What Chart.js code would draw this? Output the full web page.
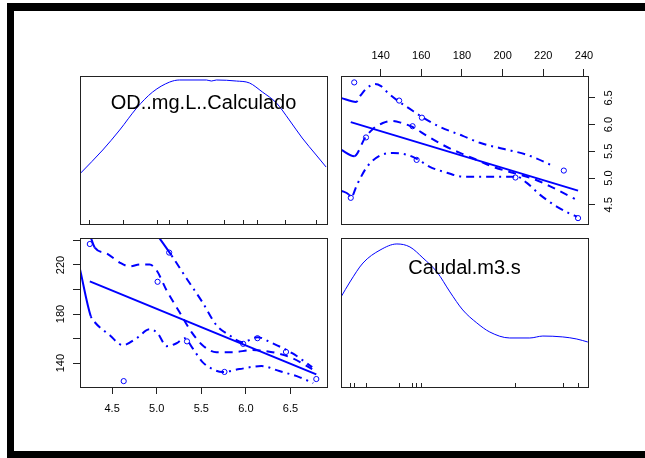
<!DOCTYPE html>
<html><head><meta charset="utf-8">
<script src="https://cdn.jsdelivr.net/npm/chart.js@4.4.1/dist/chart.umd.min.js"></script>
<style>
html,body{margin:0;padding:0;background:#fff;width:645px;height:458px;overflow:hidden;position:relative;}
.bar{position:absolute;background:#000;}
#barTop{left:7px;top:3px;width:638px;height:8px;}
#barLeft{left:7px;top:3px;width:7px;height:455px;}
#barBottom{left:7px;top:451px;width:638px;height:7px;}
#rightCover{position:absolute;left:628px;top:11px;width:17px;height:440px;background:#fff;z-index:10;}
canvas{position:absolute;left:0;top:0;}
</style></head><body>
<div class="bar" id="barTop"></div>
<div class="bar" id="barLeft"></div>
<div class="bar" id="barBottom"></div>
<canvas id="tl" width="645" height="458"></canvas>
<canvas id="tr" width="645" height="458"></canvas>
<canvas id="bl" width="645" height="458"></canvas>
<canvas id="br" width="645" height="458"></canvas>
<div id="rightCover"></div>
<script>
// ---- data ----
const OD = [6.79, 6.45, 6.13, 5.76, 5.97, 5.34, 4.63, 5.01, 5.14, 4.25];
const CAUDAL = [127.0, 149.1, 160.3, 132.8, 155.7, 157.7, 125.3, 206.3, 230.1, 237.1];
const OD_TICKS = [4.5, 5.0, 5.5, 6.0, 6.5];
const CAUDAL_TICKS = [140, 160, 180, 200, 220, 240];
const CAUDAL_LABELLED = [140, 180, 220];
const OD_RANGE = [4.14, 6.91];
const CAUDAL_RANGE = [120.5, 242];
const LABEL_OD = 'OD..mg.L..Calculado';
const LABEL_CAUDAL = 'Caudal.m3.s';

// OD vs Caudal (top-right): x = Caudal, y = OD
const TR_REG_X = [125.3, 237.1];
const TR_REG_Y = [6.046, 4.765];
const TR_SMOOTH_X = [120.5, 127.0, 132.3, 136.2, 141.1, 145.6, 150.5, 155.4, 162.8, 170.6, 179.0, 187.3, 195.2, 205.0, 214.8, 224.7, 235.5];
const TR_SMOOTH_Y = [5.53, 5.41, 5.75, 5.92, 6.03, 6.07, 6.03, 5.96, 5.79, 5.62, 5.47, 5.34, 5.21, 5.10, 4.99, 4.82, 4.61];
const TR_UPPER_X = [120.5, 127.9, 130.3, 133.3, 137.2, 140.2, 143.6, 148.5, 154.4, 160.3, 169.1, 180.4, 188.8, 200.1, 211.9, 224.7];
const TR_UPPER_Y = [6.50, 6.425, 6.555, 6.686, 6.76, 6.72, 6.593, 6.444, 6.294, 6.145, 5.958, 5.79, 5.66, 5.548, 5.436, 5.23];
const TR_LOWER_X = [120.5, 124.4, 125.4, 128.4, 133.3, 139.7, 146.1, 153.0, 157.8, 164.2, 172.6, 180.4, 188.8, 200.1, 207.0, 211.9, 218.3, 226.6, 233.0, 236.5];
const TR_LOWER_Y = [4.765, 4.69, 4.635, 4.877, 5.21, 5.42, 5.47, 5.436, 5.36, 5.21, 5.10, 5.026, 5.026, 5.026, 5.026, 4.91, 4.69, 4.466, 4.335, 4.28];

// Caudal vs OD (bottom-left): x = OD, y = Caudal
const BL_REG_X = [4.25, 6.79];
const BL_REG_Y = [206.6, 130.8];
const BL_SMOOTH_X = [4.25, 4.306, 4.44, 4.585, 4.697, 4.809, 4.921, 5.0, 5.111, 5.257, 5.391, 5.514, 5.67, 5.849, 6.073, 6.297, 6.52, 6.744];
const BL_SMOOTH_Y = [244.8, 234.2, 229.4, 222.0, 218.8, 220.4, 220.4, 215.5, 199.3, 181.4, 165.2, 154.6, 148.9, 148.9, 150.6, 148.9, 144.1, 135.1];
const BL_UPPER_X = [4.986, 5.167, 5.335, 5.514, 5.67, 5.816, 5.961, 6.129, 6.297, 6.52, 6.744];
const BL_UPPER_Y = [246.4, 227.7, 209.0, 189.5, 170.9, 162.7, 157.0, 161.1, 156.2, 148.1, 136.7];
const BL_LOWER_X = [4.138, 4.261, 4.306, 4.474, 4.619, 4.776, 4.921, 5.01, 5.111, 5.223, 5.312, 5.402, 5.514, 5.626, 5.738, 5.928, 6.174, 6.375, 6.599, 6.755];
const BL_LOWER_Y = [217.2, 178.2, 173.3, 162.7, 154.6, 160.3, 167.6, 164.4, 153.8, 156.2, 160.3, 152.2, 140.8, 135.1, 132.7, 135.1, 137.6, 133.5, 128.6, 123.7];

// densities on the diagonal (relative height)
const DENS_OD_X = [4.149, 4.395, 4.585, 4.776, 4.955, 5.145, 5.257, 5.558, 5.614, 5.67, 5.894, 6.04, 6.185, 6.342, 6.487, 6.632, 6.789, 6.9];
const DENS_OD_Y = [0.345, 0.5, 0.635, 0.784, 0.892, 0.959, 0.973, 0.973, 0.966, 0.973, 0.966, 0.953, 0.892, 0.818, 0.703, 0.581, 0.466, 0.385];
const DENS_CAUDAL_X = [120.5, 124.9, 131.3, 139.7, 148.0, 154.4, 160.8, 167.7, 174.1, 180.4, 187.3, 193.7, 203.5, 213.4, 219.8, 229.6, 236.5, 241.9];
const DENS_CAUDAL_Y = [0.604, 0.705, 0.832, 0.919, 0.960, 0.94, 0.866, 0.772, 0.638, 0.517, 0.43, 0.369, 0.329, 0.329, 0.342, 0.336, 0.322, 0.302];

// ---- styling ----
const BLUE = '#0000ff';
const FONT = "'Liberation Sans', Arial, Helvetica, sans-serif";
const DASH = [8, 6];
const DASHDOT = [2, 5, 8, 5];
const pts = (xs, ys) => xs.map((x, i) => ({x: x, y: ys[i]}));

const boxPlugin = {
  id: 'panelBox',
  afterDraw(chart) {
    const a = chart.chartArea, ctx = chart.ctx;
    ctx.save();
    ctx.strokeStyle = '#222';
    ctx.lineWidth = 1;
    ctx.strokeRect(Math.round(a.left) + 0.5, Math.round(a.top) + 0.5, Math.round(a.right - a.left), Math.round(a.bottom - a.top));
    ctx.restore();
  }
};
const labelPlugin = {
  id: 'panelLabel',
  afterDatasetsDraw(chart, args, opts) {
    if (!opts || !opts.text) return;
    const a = chart.chartArea, ctx = chart.ctx;
    ctx.save();
    ctx.font = '20px ' + FONT;
    ctx.fillStyle = '#000';
    ctx.textAlign = 'center';
    ctx.textBaseline = 'alphabetic';
    ctx.fillText(opts.text, (a.left + a.right) / 2, a.top + opts.offset);
    ctx.restore();
  }
};

function lineDs(xs, ys, dash, width) {
  const ds = {
    data: pts(xs, ys), showLine: true, borderColor: BLUE, borderWidth: width,
    pointRadius: 0, borderDash: dash, borderCapStyle: 'butt',
    cubicInterpolationMode: 'monotone', fill: false, clip: 0
  };
  if (dash.length) ds.segment = {borderDash: c => (c.p0DataIndex === 0 ? [] : dash)};
  return ds;
}
function pointDs(xs, ys) {
  return {data: pts(xs, ys), showLine: false, pointRadius: 2.6, pointBorderWidth: 1,
    pointBorderColor: BLUE, pointBackgroundColor: 'rgba(0,0,0,0)', pointStyle: 'circle', clip: 4};
}
function rugAxis(range, values) {
  return {type: 'linear', position: 'bottom', min: range[0], max: range[1],
    afterBuildTicks: s => { s.ticks = values.map(v => ({value: v})); },
    ticks: {display: false},
    grid: {drawOnChartArea: false, drawTicks: true, tickLength: -4, color: '#222', lineWidth: 1},
    border: {display: false},
    afterFit: s => { s.height = 0; }};
}
const tickFont = {family: FONT, size: 11};
function mk(id, datasets, scales, padding, label) {
  const opts = {
    responsive: false, animation: false, devicePixelRatio: 1,
    scales: scales, layout: {padding: padding},
    plugins: {legend: {display: false}, tooltip: {enabled: false}, panelLabel: label || {}}
  };
  return new Chart(document.getElementById(id), {
    type: 'scatter', data: {datasets: datasets}, options: opts, plugins: [boxPlugin, labelPlugin]
  });
}

// top-left: density of OD
mk('tl', [lineDs(DENS_OD_X, DENS_OD_Y, [], 1)], {
  x: rugAxis(OD_RANGE, OD),
  y: {type: 'linear', min: 0, max: 1, display: false}
}, {left: 80, top: 76, right: 318, bottom: 234}, {text: LABEL_OD, offset: 33});

// top-right: OD vs Caudal
mk('tr', [
  pointDs(CAUDAL, OD),
  lineDs(TR_REG_X, TR_REG_Y, [], 2),
  lineDs(TR_SMOOTH_X, TR_SMOOTH_Y, DASH, 2),
  lineDs(TR_UPPER_X, TR_UPPER_Y, DASHDOT, 2),
  lineDs(TR_LOWER_X, TR_LOWER_Y, DASHDOT, 2)
], {
  x: {type: 'linear', position: 'top', min: CAUDAL_RANGE[0], max: CAUDAL_RANGE[1],
    afterBuildTicks: s => { s.ticks = CAUDAL_TICKS.map(v => ({value: v})); },
    ticks: {autoSkip: false, font: tickFont, color: '#000', padding: 6, minRotation: 0, maxRotation: 0},
    grid: {drawOnChartArea: false, tickLength: 7, color: '#222'},
    border: {display: false},
    afterFit: s => { s.height = 30; }},
  y: {type: 'linear', position: 'right', min: OD_RANGE[0], max: OD_RANGE[1],
    afterBuildTicks: s => { s.ticks = OD_TICKS.map(v => ({value: v})); },
    ticks: {autoSkip: false, font: tickFont, color: '#000', padding: 6, minRotation: 90, maxRotation: 90,
      crossAlign: 'center', callback: v => Number(v).toFixed(1)},
    grid: {drawOnChartArea: false, tickLength: 7, color: '#222'},
    border: {display: false},
    afterFit: s => { s.width = 40; }}
}, {left: 341, top: 46, right: 17, bottom: 234});

// bottom-left: Caudal vs OD
mk('bl', [
  pointDs(OD, CAUDAL),
  lineDs(BL_REG_X, BL_REG_Y, [], 2),
  lineDs(BL_SMOOTH_X, BL_SMOOTH_Y, DASH, 2),
  lineDs(BL_UPPER_X, BL_UPPER_Y, DASHDOT, 2),
  lineDs(BL_LOWER_X, BL_LOWER_Y, DASHDOT, 2)
], {
  x: {type: 'linear', position: 'bottom', min: OD_RANGE[0], max: OD_RANGE[1],
    afterBuildTicks: s => { s.ticks = OD_TICKS.map(v => ({value: v})); },
    ticks: {autoSkip: false, font: tickFont, color: '#000', padding: 8, minRotation: 0, maxRotation: 0,
      callback: v => Number(v).toFixed(1)},
    grid: {drawOnChartArea: false, tickLength: 7, color: '#222'},
    border: {display: false},
    afterFit: s => { s.height = 40; }},
  y: {type: 'linear', position: 'left', min: CAUDAL_RANGE[0], max: CAUDAL_RANGE[1],
    afterBuildTicks: s => { s.ticks = CAUDAL_TICKS.map(v => ({value: v})); },
    ticks: {autoSkip: false, font: tickFont, color: '#000', padding: 3, minRotation: 90, maxRotation: 90,
      crossAlign: 'center', callback: v => (CAUDAL_LABELLED.indexOf(v) >= 0 ? String(v) : '')},
    grid: {drawOnChartArea: false, tickLength: 7, color: '#222'},
    border: {display: false},
    afterFit: s => { s.width = 40; }}
}, {left: 40, top: 238, right: 318, bottom: 31});

// bottom-right: density of Caudal
mk('br', [lineDs(DENS_CAUDAL_X, DENS_CAUDAL_Y, [], 1)], {
  x: rugAxis(CAUDAL_RANGE, CAUDAL),
  y: {type: 'linear', min: 0, max: 1, display: false}
}, {left: 341, top: 238, right: 57, bottom: 71}, {text: LABEL_CAUDAL, offset: 36});
</script>
</body></html>
